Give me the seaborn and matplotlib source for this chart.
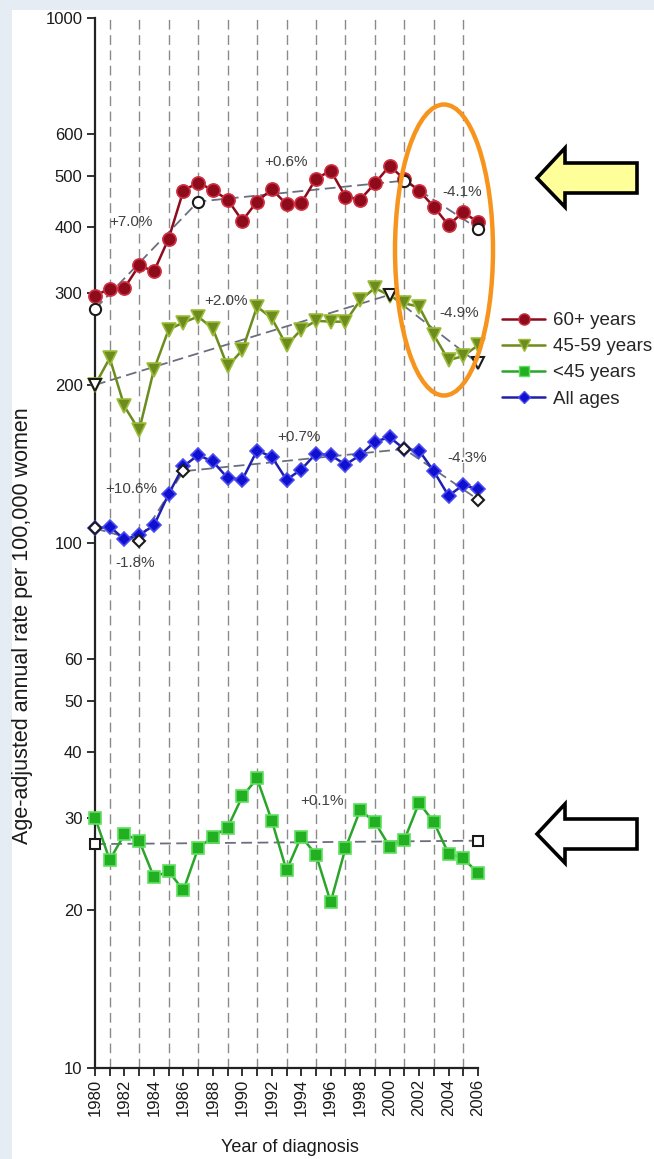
import numpy as np
import pandas as pd
import matplotlib
matplotlib.use("Agg")
import matplotlib.pyplot as plt
import matplotlib.ticker as mticker
from matplotlib.lines import Line2D
from matplotlib.patches import Ellipse, Polygon, Rectangle
import seaborn as sns

# ---- data -------------------------------------------------------------
years = list(range(1980, 2007))

rate_60plus = [296, 305, 306, 338, 329, 380, 469, 486, 470, 451, 411, 447, 472, 442,
               444, 494, 512, 457, 451, 484, 523, 493, 469, 437, 403, 427, 408]
rate_45_59 = [200, 225, 182, 164, 214, 255, 263, 270, 256, 217, 233, 282, 268, 238,
              255, 265, 264, 264, 290, 306, 296, 286, 282, 249, 223, 227, 238]
rate_under45 = [30.0, 24.9, 27.9, 27.1, 23.1, 23.7, 21.8, 26.2, 27.6, 28.7, 32.9, 35.6,
                29.6, 23.8, 27.6, 25.5, 20.7, 26.2, 31.0, 29.4, 26.4, 27.2, 32.0, 29.4,
                25.6, 25.1, 23.5]
rate_all = [106.6, 107.4, 101.6, 103.6, 108, 124, 140, 147, 143, 133, 132, 150, 146,
            132, 138, 148, 147, 141, 147, 156, 159, 151, 150, 137, 123, 129, 126.5]

# joinpoint trend segments (joinpoint years and fitted rates)
trend_60plus_years = [1980, 1987, 2001, 2006]
trend_60plus_rates = [279, 447, 490, 397]
trend_45_59_years = [1980, 2000, 2006]
trend_45_59_rates = [200, 297, 220]
trend_under45_years = [1980, 2006]
trend_under45_rates = [26.7, 27.1]
trend_all_years = [1980, 1983, 1986, 2001, 2006]
trend_all_rates = [106.6, 101, 137, 151, 121]

# annual percent change labels: (text, year, rate)
apc_labels = ["+7.0%", "+0.6%", "-4.1%", "+2.0%", "-4.9%",
              "+10.6%", "-1.8%", "+0.7%", "-4.3%", "+0.1%"]
apc_years = [1981.0, 1991.5, 2003.6, 1987.4, 2003.35,
             1980.7, 1981.4, 1992.4, 2003.9, 1993.9]
apc_rates = [408, 532, 467, 289, 274, 126.6, 91.5, 159, 145, 32.2]

series_names = ["60+ years", "45-59 years", "<45 years", "All ages"]
y_ticks = [10, 20, 30, 40, 50, 60, 100, 200, 300, 400, 500, 600, 1000]

# ---- styling ----------------------------------------------------------
sns.set_style("ticks")
plt.rcParams["font.family"] = ["Liberation Sans", "DejaVu Sans"]

W, H = 654, 1159
fig = plt.figure(figsize=(W / 100, H / 100), dpi=100)
fig.patch.set_facecolor("#e6ecf4")
fig.patches.append(Rectangle((12 / W, 0), 1, 1 - 10 / H, transform=fig.transFigure,
                             facecolor="white", edgecolor="none", zorder=-10))

ax = fig.add_axes([95 / W, 91 / H, 383 / W, 1050 / H])
ax.set_facecolor("none")

df = pd.DataFrame({
    "year": years * 4,
    "rate": rate_60plus + rate_45_59 + rate_under45 + rate_all,
    "group": sum([[n] * len(years) for n in series_names], []),
})

styles = {
    "60+ years":   dict(color="#8e0b1c", mfc="#8e0b1c", mec="#d03040", marker="o", ms=9.5),
    "45-59 years": dict(color="#6c8c1e", mfc="#6c8c1e", mec="#9cbc3a", marker="v", ms=10),
    "<45 years":   dict(color="#2aa52a", mfc="#22b022", mec="#5fe05f", marker="s", ms=8),
    "All ages":    dict(color="#1f1fb0", mfc="#1010d0", mec="#4a4af0", marker="D", ms=7.5),
}
trends = {
    "60+ years": (trend_60plus_years, trend_60plus_rates),
    "45-59 years": (trend_45_59_years, trend_45_59_rates),
    "<45 years": (trend_under45_years, trend_under45_rates),
    "All ages": (trend_all_years, trend_all_rates),
}

# vertical dashed guides at odd years
for yr in range(1981, 2006, 2):
    ax.axvline(yr, color="#8a8a8a", lw=1.0, ls=(0, (7, 4)), zorder=1)

for name in series_names:
    st = styles[name]
    ty, tr = trends[name]
    ax.plot(ty, tr, color="#6a6f80", lw=1.3, ls=(0, (6, 3)), zorder=2, clip_on=False)
    sns.lineplot(data=df[df["group"] == name], x="year", y="rate", ax=ax,
                 color=st["color"], lw=1.8, marker=st["marker"], markersize=st["ms"],
                 markerfacecolor=st["mfc"], markeredgecolor=st["mec"],
                 markeredgewidth=1.2, zorder=3, clip_on=False, legend=False)
    ax.plot(ty, tr, ls="none", marker=st["marker"], ms=st["ms"] * 0.85,
            mfc="white", mec="#1a1a1a", mew=1.5, zorder=5, clip_on=False)

for txt, yr, rt in zip(apc_labels, apc_years, apc_rates):
    ax.text(yr, rt, txt, fontsize=11, color="#404040", ha="left", va="center", zorder=6)

ax.set_yscale("log")
ax.set_ylim(10, 1000)
ax.set_xlim(1980, 2006)
ax.yaxis.set_major_locator(mticker.FixedLocator(y_ticks))
ax.yaxis.set_major_formatter(mticker.FixedFormatter([str(v) for v in y_ticks]))
ax.yaxis.set_minor_locator(mticker.NullLocator())
ax.set_xticks(list(range(1980, 2007, 2)))
ax.set_xticklabels([str(v) for v in range(1980, 2007, 2)], rotation=90)
ax.set_xticks(list(range(1981, 2006, 2)), minor=True)
ax.tick_params(axis="both", which="both", direction="out", length=6, width=1.3,
               color="#222222", labelsize=12, labelcolor="#1a1a1a", pad=2)
ax.tick_params(axis="y", pad=3)
for s in ["top", "right"]:
    ax.spines[s].set_visible(False)
for s in ["left", "bottom"]:
    ax.spines[s].set_linewidth(1.6)
    ax.spines[s].set_color("#222222")

ax.set_ylabel("Age-adjusted annual rate per 100,000 women", fontsize=15.5, color="#1a1a1a")
ax.yaxis.set_label_coords(-0.162, 0.421)
ax.set_xlabel("Year of diagnosis", fontsize=13, color="#1a1a1a")
ax.xaxis.set_label_coords(0.509, -0.068)

handles = [Line2D([0], [0], color=styles[n]["color"], lw=1.8, marker=styles[n]["marker"],
                  ms=styles[n]["ms"] * 0.85, mfc=styles[n]["mfc"], mec=styles[n]["mec"])
           for n in series_names]
fig.legend(handles, series_names, loc="upper left", bbox_to_anchor=(502 / W, 1 - 312 / H),
           frameon=False, fontsize=13.5, handlelength=2.3, handletextpad=0.4,
           labelspacing=0.48, borderaxespad=0, borderpad=0)

# highlight ring and pointer arrows
fig.patches.append(Ellipse((444 / W, 1 - 250 / H), 98 / W, 291 / H, transform=fig.transFigure,
                           fill=False, edgecolor="#f7941d", lw=3.2, zorder=10))


def arrow(ymid, face):
    pts = [(637, ymid - 15), (565, ymid - 15), (565, ymid - 30), (537, ymid),
           (565, ymid + 29), (565, ymid + 15), (637, ymid + 15)]
    fig.patches.append(Polygon([(x / W, 1 - y / H) for x, y in pts], closed=True,
                               transform=fig.transFigure, facecolor=face,
                               edgecolor="black", lw=2.6, joinstyle="miter", zorder=10))


arrow(178, "#ffff99")
arrow(834, "white")

fig.savefig("out.png", dpi=100, facecolor=fig.get_facecolor())
